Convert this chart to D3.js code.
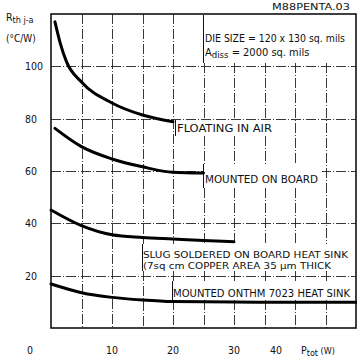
<!DOCTYPE html>
<html><head><meta charset="utf-8">
<script src="https://d3js.org/d3.v7.min.js"></script>
<style>body{margin:0;background:#fff}svg{display:block}text{font-family:"Liberation Sans Narrow","DejaVu Sans Condensed","Liberation Sans",sans-serif;fill:#111}</style>
</head><body><svg id="c" width="357" height="363"></svg>
<script>
// ---- data ----
const floatingX = [0.65, 1.5, 2.5, 5, 10, 15, 20];
const floatingY = [117, 109, 102, 94, 86, 81.4, 78.8];
const boardX = [0.65, 5, 10, 15, 20, 25];
const boardY = [76.3, 69.3, 64.6, 61.6, 59.5, 59.2];
const slugX = [0, 5, 10, 15, 20, 25, 30];
const slugY = [45.1, 39.1, 35.6, 34.6, 34.0, 33.4, 33.0];
const sinkX = [0, 5, 10, 15, 20, 30, 40, 50];
const sinkY = [16.8, 13.5, 11.7, 10.7, 10.1, 9.9, 9.8, 9.8];
const xTicks = [0, 10, 20, 30, 40];
const yTicks = [20, 40, 60, 80, 100];
const xGrid = [5, 10, 15, 20, 25, 30, 35, 40, 45];

const svg = d3.select("#c");
const L = 51, R = 356, T = 14, B = 328;
const x = d3.scaleLinear().domain([0, 50]).range([L, R]);
const y = d3.scaleLinear().domain([0, 120]).range([B, T]);

const gridLayer = svg.append("g");

// label boxes (white)
const boxes = [[203, 15, R - 1, 63], [175, 120, 286, 136], [203, 164, 322, 188], [142, 244, R - 1, 271], [172, 281, R - 1, 300]];

// grid: vertical and horizontal dashed segments, broken where a label box sits
function vSegs(px) {
  let segs = [[T, B]];
  boxes.forEach(([x0, y0, x1, y1]) => {
    if (px > x0 && px < x1) {
      segs = segs.flatMap(([a, b]) => (y1 <= a || y0 >= b) ? [[a, b]] : [[a, y0], [y1, b]].filter(s => s[1] - s[0] > 1));
    }
  });
  return segs;
}
xGrid.forEach(v => {
  const px = Math.round(x(v)) + 0.5;
  vSegs(px).forEach(([a, b]) => gridLayer.append("path").attr("d", `M${px},${a}V${b}`)
    .attr("stroke", "#222").attr("stroke-width", 0.9).attr("fill", "none").attr("stroke-dasharray", "10 2 1 2"));
});
yTicks.forEach(v => {
  const py = Math.round(y(v)) + 0.5;
  gridLayer.append("path").attr("d", `M${L},${py}H${R}`)
    .attr("stroke", "#222").attr("stroke-width", 0.9).attr("fill", "none").attr("stroke-dasharray", "10 2 1 2");
});

boxes.forEach(([x0, y0, x1, y1]) => {
  svg.append("rect").attr("x", x0).attr("y", y0).attr("width", x1 - x0).attr("height", y1 - y0).attr("fill", "#fff");
  svg.append("path").attr("d", `M${x0 + 0.5},${y0}V${y1}`).attr("stroke", "#111").attr("stroke-width", 1);
});

// frame
svg.append("rect").attr("x", L).attr("y", T).attr("width", R - L).attr("height", B - T)
  .attr("fill", "none").attr("stroke", "#111").attr("stroke-width", 1.6);

// curves
const curveGen = d3.line().x(d => x(d[0])).y(d => y(d[1])).curve(d3.curveMonotoneX);
[[floatingX, floatingY], [boardX, boardY], [slugX, slugY], [sinkX, sinkY]].forEach(([xs, ys]) => {
  svg.append("path").attr("d", curveGen(d3.zip(xs, ys))).attr("fill", "none")
    .attr("stroke", "#000").attr("stroke-width", 3).attr("stroke-linecap", "round");
});

// axis labels
svg.selectAll("text.yt").data(yTicks).join("text").attr("x", 25).attr("y", d => y(d) + 4)
  .attr("font-size", 10.5).text(d => d);
const xdx = {0: -21, 40: -19};
svg.selectAll("text.xt").data(xTicks).join("text").attr("x", d => x(d) + (xdx[d] || 0)).attr("y", 354)
  .attr("text-anchor", "middle").attr("font-size", 10.5).text(d => d);

const pt = svg.append("text").attr("x", 301).attr("y", 354).attr("font-size", 10.5);
pt.append("tspan").text("P");
pt.append("tspan").attr("font-size", 9).attr("dy", 2).text("tot");
pt.append("tspan").attr("font-size", 9).attr("dy", -2).text(" (W)");

const rt = svg.append("text").attr("x", 6).attr("y", 21).attr("font-size", 10.5);
rt.append("tspan").text("R");
rt.append("tspan").attr("font-size", 9).attr("dy", 2).text("th  j-a");
svg.append("text").attr("x", 6).attr("y", 42).attr("font-size", 10).text("(°C/W)");

svg.append("text").attr("x", 272).attr("y", 10).attr("font-size", 8.5).attr("textLength", 78)
  .attr("lengthAdjust", "spacingAndGlyphs").text("M88PENTA.03");

function t(xp, yp, s, len, fs) {
  svg.append("text").attr("x", xp).attr("y", yp).attr("font-size", fs || 10.5)
    .attr("textLength", len).attr("lengthAdjust", "spacingAndGlyphs").text(s);
}
t(205, 42, "DIE  SIZE = 120 x 130 sq. mils", 140, 11);
const ad = svg.append("text").attr("x", 205).attr("y", 56).attr("font-size", 11);
ad.append("tspan").text("A");
ad.append("tspan").attr("font-size", 9.5).attr("dy", 2).text("diss");
ad.append("tspan").attr("dy", -2).text(" = 2000 sq. mils");
t(177, 132, "FLOATING  IN  AIR", 95);
t(205, 183, "MOUNTED  ON  BOARD", 113);
t(143, 258, "SLUG SOLDERED ON BOARD HEAT SINK", 205, 9.5);
t(143, 268.5, "(7sq cm COPPER AREA 35 µm THICK", 188, 9.5);
t(173, 297, "MOUNTED ONTHM 7023 HEAT SINK", 177);
</script></body></html>
